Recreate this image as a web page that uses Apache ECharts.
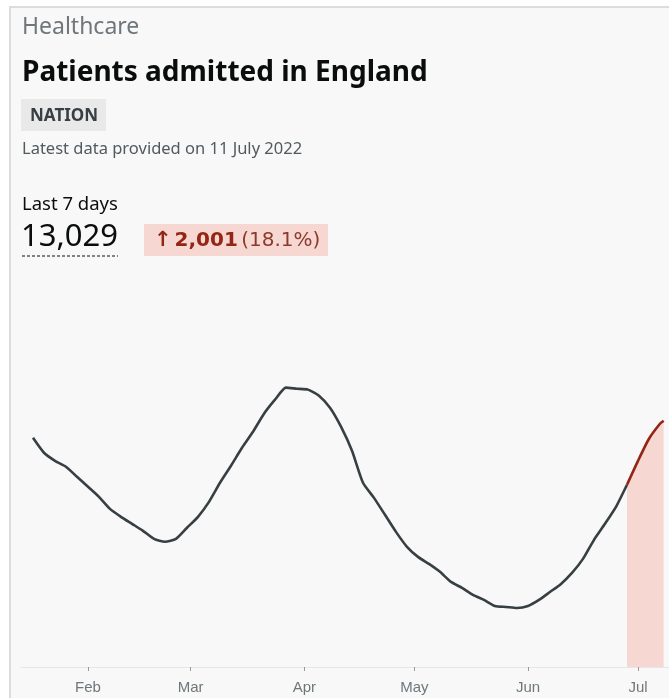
<!DOCTYPE html>
<html>
<head>
<meta charset="utf-8">
<script src="https://cdn.jsdelivr.net/npm/echarts@6/dist/echarts.min.js"></script>
<style>
html,body{margin:0;padding:0;background:#fff;}
#admissionsChart{width:669px;height:698px;}
</style>
</head>
<body>
<div id="admissionsChart"></div>
<script>
// 7 day average of patients admitted
var dates = ['2022-01-17','2022-01-20','2022-01-23','2022-01-26','2022-01-29',
	'2022-02-01','2022-02-04','2022-02-07','2022-02-10','2022-02-13','2022-02-16','2022-02-19','2022-02-22','2022-02-25','2022-02-28',
	'2022-03-03','2022-03-06','2022-03-09','2022-03-12','2022-03-15','2022-03-18','2022-03-21','2022-03-24','2022-03-27','2022-03-30',
	'2022-04-02','2022-04-05','2022-04-08','2022-04-11','2022-04-14','2022-04-17','2022-04-20','2022-04-23','2022-04-26','2022-04-29',
	'2022-05-02','2022-05-05','2022-05-08','2022-05-11','2022-05-14','2022-05-17','2022-05-20','2022-05-23','2022-05-26','2022-05-29',
	'2022-06-01','2022-06-04','2022-06-07','2022-06-10','2022-06-13','2022-06-16','2022-06-19','2022-06-22','2022-06-25','2022-06-28',
	'2022-07-01','2022-07-04','2022-07-07','2022-07-08'];
var admitted = [1732,1619,1558,1513,1437,
	1362,1286,1195,1135,1082,1029,968,946,968,1052,
	1135,1248,1392,1521,1657,1778,1914,2020,2111,2103,
	2096,2050,1959,1816,1634,1392,1278,1150,1021,908,
	832,779,719,643,598,545,507,461,454,446,
	461,507,567,628,711,817,961,1082,1210,1377,
	1558,1725,1838,1861];
var last7Start = '2022-06-28';
var monthTicks = ['2022-02-01','2022-03-01','2022-04-01','2022-05-01','2022-06-01','2022-07-01'];
var monthLabels = ['Feb','Mar','Apr','May','Jun','Jul'];

var bodyFont = '"Noto Sans", sans-serif';
var badgeFont = '"DejaVu Sans", sans-serif';

function toTime(d) {
	return +echarts.time.parse(d);
}

var olderData = [], recentData = [];
var splitTime = toTime(last7Start);
for (var i = 0; i < dates.length; i++) {
	var t = toTime(dates[i]);
	if (t <= splitTime) olderData.push([t, admitted[i]]);
	if (t >= splitTime) recentData.push([t, admitted[i]]);
}
var tickValues = monthTicks.map(toTime);

var chart = echarts.init(document.getElementById('admissionsChart'));
var option = {
	backgroundColor: '#fff',
	animation: false,
	grid: { left: 21, right: 0, top: 270, bottom: 31 },
	xAxis: {
		type: 'value',
		min: toTime('2022-01-13 17:30:00'),
		max: toTime('2022-07-09 11:00:00'),
		axisLine: { lineStyle: { color: '#e6e6e6', width: 1 } },
		axisTick: { customValues: tickValues, length: 4, lineStyle: { color: '#9a9a9a' } },
		splitLine: { show: false },
		axisLabel: {
			customValues: tickValues,
			margin: 13,
			color: '#6f777b',
			fontFamily: '"Liberation Sans", Arial, sans-serif',
			fontSize: 15,
			formatter: function (val) {
				var idx = tickValues.indexOf(val);
				return idx >= 0 ? monthLabels[idx] : '';
			}
		}
	},
	yAxis: { type: 'value', min: 0, max: 3000, show: false, splitLine: { show: false } },
	series: [
		{
			name: 'admitted',
			type: 'line',
			data: olderData,
			showSymbol: false,
			smooth: 0.2,
			lineStyle: { color: '#383f43', width: 2.6 }
		},
		{
			name: 'last 7 days',
			type: 'line',
			data: recentData,
			showSymbol: false,
			smooth: 0.2,
			lineStyle: { color: '#942514', width: 2.6 },
			areaStyle: { color: '#f6d7d2', opacity: 1 }
		}
	],
	graphic: [
		// card background + borders
		{ type: 'rect', z: -10, shape: { x: 10, y: 7, width: 670, height: 700 }, style: { fill: '#f8f8f8', stroke: '#dcdcdc', lineWidth: 2 } },
		{ type: 'text', left: 22, top: 16, style: { text: 'Healthcare', font: '23px ' + bodyFont, fill: '#6f777b' } },
		{ type: 'text', left: 22, top: 59, style: { text: 'Patients admitted in England', font: 'bold 28px ' + bodyFont, fill: '#0b0c0c' } },
		{ type: 'rect', shape: { x: 21, y: 99, width: 85, height: 32 }, style: { fill: '#e9e9e9' } },
		{ type: 'text', left: 30, top: 108, style: { text: 'NATION', font: 'bold 17px ' + bodyFont, fill: '#383f43' } },
		{ type: 'text', left: 22, top: 141, style: { text: 'Latest data provided on 11 July 2022', font: '16.5px ' + bodyFont, fill: '#505a5f' } },
		{ type: 'text', left: 22, top: 195, style: { text: 'Last 7 days', font: '18.5px ' + bodyFont, fill: '#0b0c0c' } },
		{ type: 'text', left: 21, top: 222, style: { text: '13,029', font: '31px ' + bodyFont, fill: '#0b0c0c' } },
		{ type: 'line', shape: { x1: 22, y1: 256, x2: 118, y2: 256 }, style: { stroke: '#0b0c0c', lineWidth: 1, lineDash: [3, 2] } },
		{ type: 'rect', shape: { x: 144, y: 224, width: 184, height: 32 }, style: { fill: '#f6d7d2' } },
		{
			type: 'text', left: 154, top: 230,
			style: {
				text: '{c|↑}{a|2,001} {b|(18.1%)}',
				rich: {
					c: { font: 'bold 21px ' + badgeFont, fill: '#942514', padding: [0, 3, 0, 0] },
					a: { font: 'bold 20px ' + badgeFont, fill: '#942514' },
					b: { font: '20px ' + badgeFont, fill: '#8c3a2b' }
				}
			}
		}
	]
};
chart.setOption(option);
</script>
</body>
</html>
